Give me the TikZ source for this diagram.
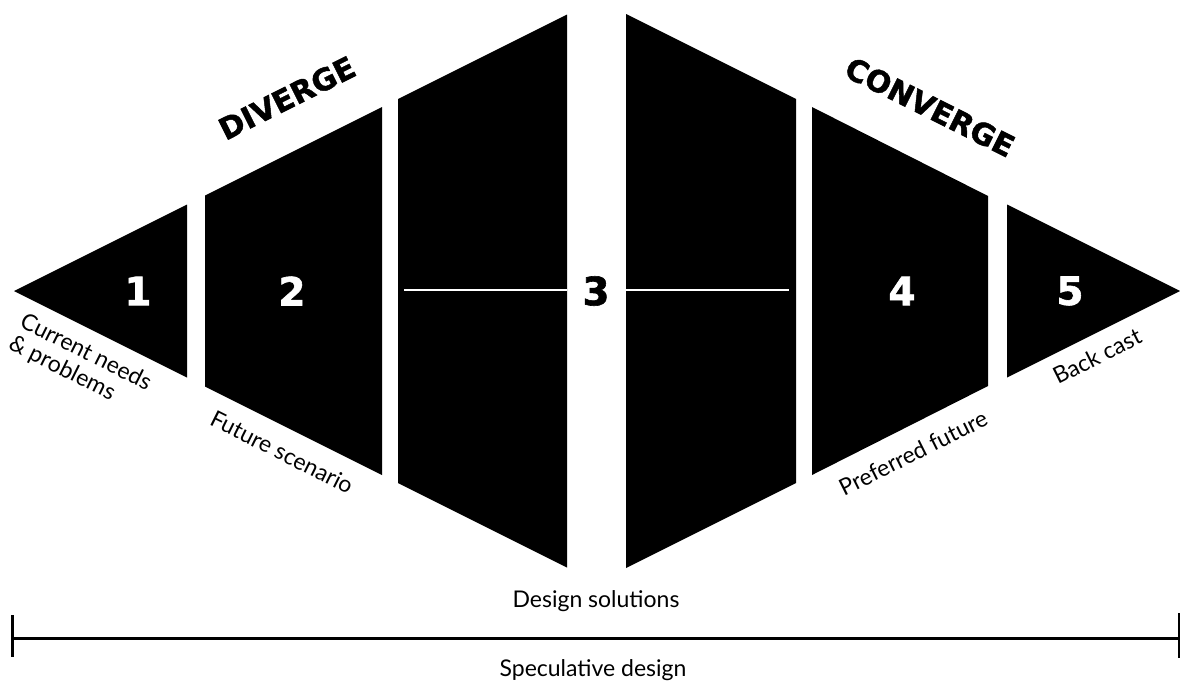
\documentclass[tikz,border=0pt]{standalone}
\usepackage{fontspec}
\setmainfont{Lato}
\newfontfamily\heavyfont{DejaVu Sans}[BoldFeatures={FakeBold=1.5}]
\begin{document}
\begin{tikzpicture}[x=1pt,y=-1pt,
  panel/.style={fill=black,draw=none},
  num/.style={font=\heavyfont\bfseries\fontsize{39}{40}\selectfont,inner sep=0pt},
  phase/.style={font=\heavyfont\bfseries\fontsize{30}{32}\selectfont,inner sep=0pt},
  lab/.style={font=\fontsize{23}{25}\selectfont,inner sep=0pt},
  divline/.style={draw=white,line width=1.5pt},
  scale line/.style={draw=black,line width=3pt}]
\useasboundingbox (0,0) rectangle (1180,681);
% shapes
\fill[panel] (14,291) -- (187,204.5) -- (187,377.5) -- cycle;
\fill[panel] (205,195.5) -- (382,107) -- (382,475) -- (205,386.5) -- cycle;
\fill[panel] (398,99) -- (567,14.5) -- (567,567.5) -- (398,483) -- cycle;
\fill[panel] (626,14) -- (796,99) -- (796,483) -- (626,568) -- cycle;
\fill[panel] (812,107) -- (988,196) -- (988,386) -- (812,475) -- cycle;
\fill[panel] (1007,204.5) -- (1180,291) -- (1007,377.5) -- cycle;
% divider lines in panel 3
\coordinate (l1) at (404,290);
\coordinate (l2) at (567,290);
\coordinate (r1) at (626,290);
\coordinate (r2) at (789,290);
\draw[divline] (l1) -- (l2);
\draw[divline] (r1) -- (r2);
% numbers
\node[num,text=white] (n1) at (138,291) {1};
\node[num,text=white] (n2) at (292,291) {2};
\node[num,text=black] (n3) at (596,291) {3};
\node[num,text=white] (n4) at (902,291) {4};
\node[num,text=white] (n5) at (1070,291) {5};
% phase titles
\node[phase,rotate=26.6] (div) at (287,98) {DIVERGE};
\node[phase,rotate=-26.6] (conv) at (930,107) {CONVERGE};
% labels
\node[lab,rotate=-26.6,align=left] (cur) at (80,364) {Current needs\\\& problems};
\node[lab,rotate=-26.6] (fut) at (282,452) {Future scenario};
\node[lab,rotate=26.6] (pref) at (913,453) {Preferred future};
\node[lab,rotate=26.6] (back) at (1097,356) {Back cast};
\node[lab,anchor=base] (sol) at (596,607) {Design solutions};
\node[lab,anchor=base] (spec) at (593,676) {Speculative design};
% bottom scale
\coordinate (s1) at (12,638);
\coordinate (s2) at (1180,638);
\coordinate (t1a) at (12,615);
\coordinate (t1b) at (12,657);
\coordinate (t2a) at (1179,613);
\coordinate (t2b) at (1179,658);
\draw[scale line] (s1) -- (s2);
\draw[scale line] (t1a) -- (t1b);
\draw[draw=black,line width=1.5pt] (t2a) -- (t2b);
\end{tikzpicture}
\end{document}
